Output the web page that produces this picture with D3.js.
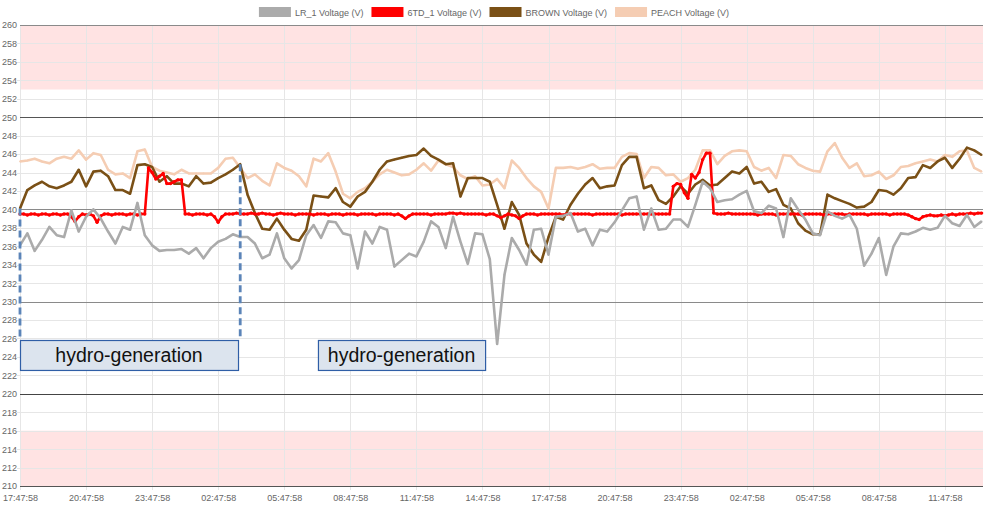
<!DOCTYPE html>
<html><head><meta charset="utf-8">
<script src="https://cdn.jsdelivr.net/npm/d3@7/dist/d3.min.js"></script>
<style>
body{margin:0;background:#fff}
svg{display:block}
text{font-family:"Liberation Sans",Arial,Helvetica,sans-serif}
</style>
</head><body>
<svg id="chart" width="988" height="508"></svg>
<script>
// ---------------- DATA ----------------
const seriesNames = ["LR_1 Voltage (V)", "6TD_1 Voltage (V)", "BROWN Voltage (V)", "PEACH Voltage (V)"];
const seriesColors = ["#ababab", "#ff0000", "#7a5016", "#f5cdb3"];

const tickLabels = ["17:47:58","20:47:58","23:47:58","02:47:58","05:47:58","08:47:58","11:47:58",
  "14:47:58","17:47:58","20:47:58","23:47:58","02:47:58","05:47:58","08:47:58","11:47:58"];
const tickHours = [0,3,6,9,12,15,18,21,24,27,30,33,36,39,42];
const yTickValues = [210,212,214,216,218,220,222,224,226,228,230,232,234,236,238,240,242,244,246,248,250,252,254,256,258,260];
const yMajorValues = [210,220,230,240,250,260];
const alarmBands = [[253,260],[210,216]];

const sampleMinutes = 20;      // LR_1, BROWN, PEACH
const redSampleMinutes = 10;   // 6TD_1

const lr1 = [
 236.1,237.4,235.5,236.7,238.1,237.2,237.0,239.9,237.6,239.2,
 240.0,239.0,237.6,236.3,238.1,237.8,240.7,237.2,236.1,235.5,
 235.6,235.6,235.7,235.2,235.8,234.7,235.8,236.5,236.8,237.3,
 237.0,237.0,236.3,234.7,235.1,237.4,234.7,233.6,234.5,237.2,
 238.3,236.9,238.7,238.6,237.4,237.2,233.6,237.6,236.3,238.1,
 237.8,233.8,234.5,235.2,234.9,236.5,238.7,238.1,235.8,239.2,
 236.5,234.1,237.4,237.3,234.6,225.4,232.9,236.9,235.6,234.0,
 237.8,237.9,235.1,239.2,239.3,239.6,237.6,237.9,236.1,237.8,
 237.6,238.6,239.9,241.2,241.4,237.8,240.1,237.8,237.9,238.9,
 238.9,238.1,240.5,243.0,242.3,240.8,241.0,241.1,241.6,242.0,
 239.8,239.6,240.4,240.1,237.0,241.2,240.0,238.9,237.4,237.2,
 239.8,239.3,239.0,239.4,237.9,233.9,235.2,236.9,232.9,236.0,
 237.4,237.3,237.6,238.0,237.8,238.0,239.3,238.5,238.2,239.4,
 238.1,238.7];

const td1 = [
 239.5,239.5,239.4,239.5,239.5,239.4,239.5,239.5,239.4,239.5,
 239.5,239.4,239.5,239.5,239.2,238.7,239.2,239.5,239.4,239.5,
 239.3,238.6,239.3,239.5,239.5,239.4,239.5,239.5,239.5,239.4,
 239.5,239.5,239.4,239.5,239.5,244.5,244.0,243.3,243.6,243.9,
 242.8,242.8,243.0,243.2,243.2,239.5,239.5,239.4,239.5,239.5,
 239.5,239.4,239.5,239.2,238.6,239.2,239.5,239.5,239.5,239.6,
 239.5,239.5,239.5,239.6,239.5,239.5,239.6,239.5,239.5,239.4,
 239.5,239.6,239.5,239.5,239.5,239.4,239.5,239.5,239.5,239.5,
 239.4,239.5,239.5,239.5,239.4,239.5,239.5,239.5,239.4,239.5,
 239.5,239.5,239.4,239.5,239.5,239.5,239.5,239.4,239.5,239.5,
 239.5,239.5,239.4,239.5,239.3,239.0,239.3,239.5,239.5,239.5,
 239.5,239.5,239.4,239.5,239.5,239.5,239.5,239.6,239.6,239.5,
 239.6,239.5,239.5,239.5,239.5,239.5,239.5,239.4,239.5,239.5,
 239.3,239.1,239.3,239.5,239.4,239.3,239.0,239.3,239.5,239.5,
 239.5,239.4,239.5,239.5,239.5,239.5,239.5,239.5,239.4,239.5,
 239.5,239.5,239.5,239.5,239.5,239.5,239.4,239.5,239.5,239.5,
 239.5,239.5,239.5,239.5,239.4,239.5,239.5,239.5,239.5,239.5,
 239.5,239.5,239.5,239.5,239.5,239.5,239.5,239.5,242.5,242.8,
 242.7,241.8,241.2,243.8,243.4,244.0,245.4,246.1,246.1,239.6,
 239.5,239.5,239.5,239.6,239.5,239.5,239.5,239.5,239.5,239.5,
 239.5,239.4,239.5,239.5,239.5,239.5,239.4,239.5,239.5,239.5,
 239.5,239.5,239.5,239.4,239.5,239.5,239.5,239.5,239.5,239.4,
 239.5,239.5,239.5,239.5,239.5,239.4,239.5,239.5,239.5,239.5,
 239.5,239.4,239.5,239.5,239.5,239.5,239.5,239.4,239.5,239.5,
 239.5,239.5,239.4,239.2,239.0,238.9,239.2,239.3,239.4,239.3,
 239.3,239.4,239.3,239.4,239.5,239.4,239.5,239.5,239.5,239.6,
 239.5,239.6,239.6];

const brown = [
 240.1,242.1,242.6,243.0,242.5,242.3,242.6,243.0,244.3,242.5,
 244.1,244.2,243.6,242.1,242.1,241.7,244.8,244.9,244.6,243.0,
 243.6,242.8,242.8,242.5,243.6,242.8,242.9,243.4,243.8,244.3,
 244.9,241.6,239.6,237.9,237.8,239.0,237.8,236.8,236.6,237.8,
 241.5,241.4,241.3,242.3,240.8,240.3,241.4,241.9,243.0,244.3,
 245.2,245.4,245.6,245.8,245.9,246.6,245.8,245.4,244.9,245.0,
 241.4,243.4,243.4,243.4,243.0,240.5,237.9,240.8,239.4,236.3,
 235.1,234.3,237.0,239.2,238.9,240.5,241.7,242.7,243.4,242.3,
 242.5,242.6,244.8,245.7,245.7,242.3,242.6,241.0,240.6,241.4,
 242.5,241.7,242.7,243.2,242.6,242.7,243.4,244.1,243.9,244.6,
 242.8,243.0,241.9,242.2,240.5,240.1,238.5,237.7,237.3,237.3,
 241.6,241.2,240.9,240.6,240.2,240.3,240.8,242.1,242.0,241.6,
 242.3,243.4,243.5,244.8,244.5,245.2,245.6,244.5,245.5,246.7,
 246.4,245.9];

const peach = [
 245.2,245.3,245.5,245.2,245.0,245.5,245.7,245.5,246.4,245.4,
 246.1,245.9,244.3,243.8,243.9,243.4,246.3,246.5,244.6,244.2,
 244.0,243.8,244.3,243.9,243.9,243.9,243.9,244.5,245.5,245.6,
 244.5,243.4,243.8,243.1,242.6,245.0,244.5,244.2,243.6,242.5,
 245.5,245.2,246.1,244.1,241.7,241.2,241.9,242.3,243.0,243.8,
 244.3,244.0,243.7,243.8,244.3,245.0,244.2,245.3,244.9,244.6,
 243.7,243.3,243.6,242.6,242.7,243.3,242.3,245.3,244.5,243.4,
 242.5,241.9,240.1,244.5,244.5,244.6,244.4,244.6,244.9,244.4,
 244.5,244.5,245.7,246.1,246.0,243.4,244.6,244.5,243.7,243.8,
 243.0,243.4,244.3,246.4,246.4,244.9,245.8,246.3,246.4,246.3,
 244.6,244.2,244.5,243.4,245.9,245.8,244.9,244.5,244.2,244.1,
 246.3,247.2,245.6,244.5,245.0,243.6,243.7,244.1,243.3,243.7,
 244.6,244.7,245.0,245.2,245.4,245.2,245.9,245.7,246.3,246.4,
 244.5,244.1];

// annotations
const annotationLabels = ["hydro-generation", "hydro-generation"];
const annotationSpans = [[0, 9.9], [13.53, 21.12]];
const annotationBoxRange = [225.85, 222.6];
const markerHours = [0, 10];
const markerTops = [240.1, 244.9];

// ---------------- CHART ----------------
const svg = d3.select("#chart");
const pLeft = 20, pRight = 983, pTop = 25, pBottom = 486;
const x = d3.scaleLinear().domain([0, 43.73]).range([pLeft, pRight]);
const y = d3.scaleLinear().domain([210, 260]).range([pBottom, pTop]);

// alarm bands
svg.append("g").selectAll("rect").data(alarmBands).join("rect")
  .attr("x", pLeft).attr("width", pRight - pLeft)
  .attr("y", d => y(d[1])).attr("height", d => y(d[0]) - y(d[1]))
  .attr("fill", "#ffe3e3");

// gridlines
const grid = svg.append("g").attr("shape-rendering", "crispEdges");
grid.selectAll("line.h").data(yTickValues.filter(v => !yMajorValues.includes(v))).join("line")
  .attr("class", "h")
  .attr("x1", pLeft - 3).attr("x2", pRight)
  .attr("y1", d => Math.round(y(d)) + 0.5).attr("y2", d => Math.round(y(d)) + 0.5)
  .attr("stroke", "#e6e6e6").attr("stroke-width", 1);
grid.selectAll("line.v").data(tickHours).join("line")
  .attr("class", "v")
  .attr("x1", d => Math.round(x(d)) + 0.5).attr("x2", d => Math.round(x(d)) + 0.5)
  .attr("y1", pTop).attr("y2", pBottom + 4)
  .attr("stroke", "#e6e6e6").attr("stroke-width", 1);

const majorColor = {210: "#555", 220: "#444", 230: "#8a8a8a", 240: "#8a8a8a", 250: "#555", 260: "#8a8a8a"};
grid.selectAll("line.m").data(yMajorValues).join("line")
  .attr("class", "m")
  .attr("x1", pLeft).attr("x2", pRight)
  .attr("y1", d => Math.round(y(d)) + 0.5).attr("y2", d => Math.round(y(d)) + 0.5)
  .attr("stroke", d => majorColor[d]).attr("stroke-width", 1.3);

// y axis labels
const yAxis = d3.axisLeft(y).tickValues(yTickValues).tickSize(0).tickPadding(3).tickFormat(d3.format("d"));
const yg = svg.append("g").attr("transform", `translate(${pLeft},0)`).call(yAxis);
yg.select(".domain").remove();
yg.selectAll("text").attr("fill", "#666").style("font-size", "9px");

// x axis labels
const xAxis = d3.axisBottom(x).tickValues(tickHours).tickSize(0).tickPadding(9)
  .tickFormat((d, i) => tickLabels[i]);
const xg = svg.append("g").attr("transform", `translate(0,${pBottom})`).call(xAxis);
xg.select(".domain").remove();
xg.selectAll("text").attr("fill", "#666").style("font-size", "9px");

// series
const hrs = (i, step) => i * step / 60;
const series = [
  {name: seriesNames[0], color: seriesColors[0], values: lr1, step: sampleMinutes},
  {name: seriesNames[1], color: seriesColors[1], values: td1, step: redSampleMinutes},
  {name: seriesNames[2], color: seriesColors[2], values: brown, step: sampleMinutes},
  {name: seriesNames[3], color: seriesColors[3], values: peach, step: sampleMinutes}
];
const lineGen = step => d3.line().x((d, i) => x(hrs(i, step))).y(d => y(d));
const linesG = svg.append("g");
series.slice().reverse().forEach(s => {
  linesG.append("path").datum(s.values)
    .attr("d", lineGen(s.step))
    .attr("fill", "none").attr("stroke", s.color)
    .attr("stroke-width", 2.6).attr("stroke-linejoin", "round");
  const r = s.name === seriesNames[1] ? 1.7 : 0.9;
  linesG.append("g").selectAll("circle").data(s.values).join("circle")
    .attr("cx", (d, i) => x(hrs(i, s.step))).attr("cy", d => y(d)).attr("r", r)
    .attr("fill", s.color);
});

// annotation dashed markers
svg.append("g").selectAll("line").data(markerHours).join("line")
  .attr("x1", d => x(d)).attr("x2", d => x(d))
  .attr("y1", (d, i) => y(markerTops[i])).attr("y2", y(annotationBoxRange[0]))
  .attr("stroke", "#5b84b8").attr("stroke-width", 2.8).attr("stroke-dasharray", "7,4");

// annotation boxes
const ann = svg.append("g").selectAll("g").data(annotationSpans).join("g");
ann.append("rect")
  .attr("x", d => x(d[0]) + 0.5).attr("width", d => x(d[1]) - x(d[0]))
  .attr("y", Math.round(y(annotationBoxRange[0])) + 0.5)
  .attr("height", y(annotationBoxRange[1]) - y(annotationBoxRange[0]))
  .attr("fill", "#dce4ee").attr("stroke", "#2f5ea6").attr("stroke-width", 1.2);
ann.append("text")
  .attr("x", d => (x(d[0]) + x(d[1])) / 2)
  .attr("y", (y(annotationBoxRange[0]) + y(annotationBoxRange[1])) / 2)
  .attr("dy", "0.35em").attr("text-anchor", "middle")
  .style("font-size", "19.5px").attr("fill", "#111")
  .text((d, i) => annotationLabels[i]);

// legend
const legend = svg.append("g");
let lx = 0;
series.forEach(s => {
  const g = legend.append("g").attr("transform", `translate(${lx},0)`);
  g.append("rect").attr("x", 0).attr("y", 7).attr("width", 32).attr("height", 10).attr("fill", s.color);
  const t = g.append("text").attr("x", 36).attr("y", 15.5).attr("fill", "#666")
    .style("font-size", "9px").text(s.name);
  lx += 36 + t.node().getComputedTextLength() + 8;
});
const legendWidth = lx - 8;
legend.attr("transform", `translate(${494 - legendWidth / 2},0)`);
</script>
</body></html>
